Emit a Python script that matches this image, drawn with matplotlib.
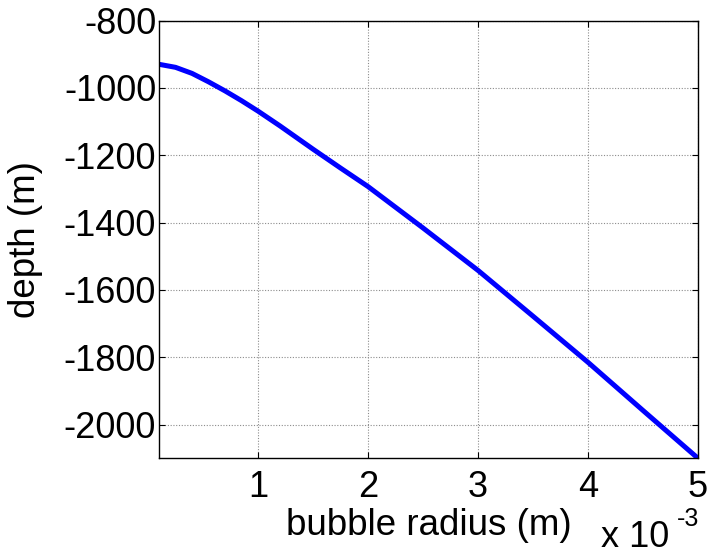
import numpy as np
import matplotlib.pyplot as plt
from matplotlib.ticker import FuncFormatter

plt.rcParams['font.family'] = ['Liberation Sans', 'DejaVu Sans']
plt.rcParams['axes.unicode_minus'] = False

# bubble radius (m) vs depth (m)
radius = [0.1e-3, 0.25e-3, 0.4e-3, 0.55e-3, 0.7e-3, 0.85e-3, 1.0e-3, 1.2e-3,
          1.5e-3, 1.75e-3, 2.0e-3, 2.5e-3, 3.0e-3, 3.5e-3, 4.0e-3, 4.5e-3, 5.0e-3]
depth = [-930, -939, -957, -982, -1009, -1038, -1069, -1113,
         -1182, -1238, -1293, -1416, -1542, -1678, -1815, -1958, -2100]

xticks = [1e-3, 2e-3, 3e-3, 4e-3, 5e-3]
yticks = [-2000, -1800, -1600, -1400, -1200, -1000, -800]

W, H = 707, 556
fig = plt.figure(figsize=(W / 100, H / 100), dpi=100)
ax = fig.add_axes([0.2249, 0.1757, 0.7624, 0.7874])

ax.plot(radius, depth, color='#0000ff', lw=3.6, solid_capstyle='butt',
        solid_joinstyle='round')

ax.set_xlim(0.1e-3, 5e-3)
ax.set_ylim(-2100, -800)
ax.set_xticks(xticks)
ax.set_yticks(yticks)
ax.xaxis.set_major_formatter(FuncFormatter(lambda v, p: '%g' % round(v * 1e3, 6)))

ax.grid(True, color='#8c8c8c', linestyle=(0, (1, 1.5)), linewidth=0.8)
ax.tick_params(direction='in', length=4, width=0.8, labelsize=26,
               top=True, right=True, colors='black')
ax.tick_params(axis='x', pad=8.5)
ax.tick_params(axis='y', pad=2)
for s in ax.spines.values():
    s.set_linewidth(1.0)

ax.set_xlabel('bubble radius (m)', fontsize=26.5, labelpad=2)
ax.set_ylabel('depth (m)', fontsize=26.5)
ax.yaxis.set_label_coords(-0.216, 0.5)

# exponent for the x axis, written out like a MATLAB multiplier
fig.text(601 / W, 1 - 547 / H, 'x 10', fontsize=26, ha='left', va='baseline')
fig.text(677 / W, 1 - 526 / H, '-3', fontsize=18, ha='left', va='baseline')

fig.savefig('out.png', dpi=100)
